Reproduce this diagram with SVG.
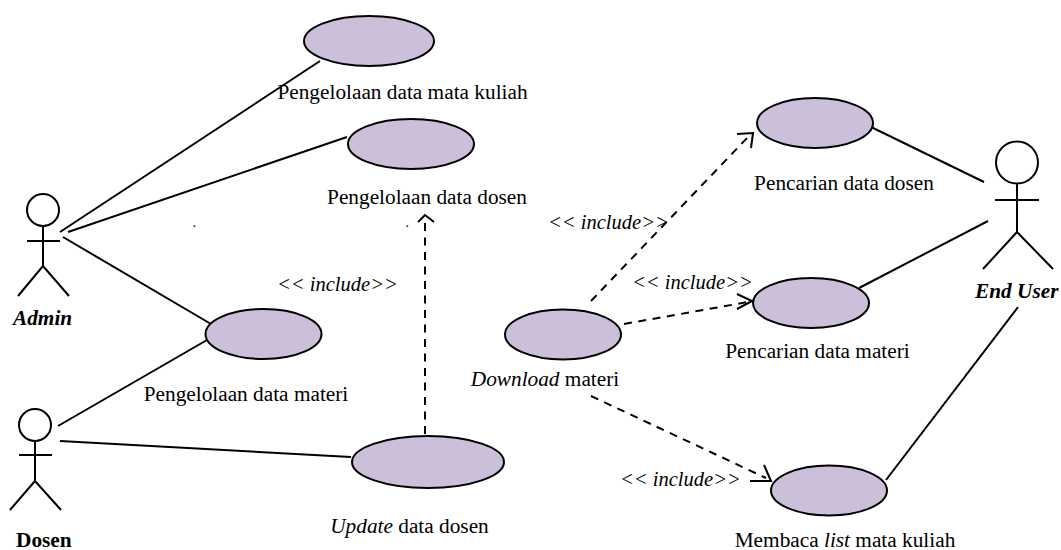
<svg xmlns="http://www.w3.org/2000/svg" width="1061" height="550" viewBox="0 0 1061 550">
<style>
.u{fill:#cbbfd9;stroke:#000;stroke-width:2}
.l{stroke:#000;stroke-width:2;fill:none;stroke-linecap:butt}
.d{stroke:#000;stroke-width:2;fill:none;stroke-dasharray:8 6.5}
.a{stroke:#000;stroke-width:2;fill:none}
.h{fill:#fff;stroke:#000;stroke-width:2}
text{font-family:"Liberation Serif","Times New Roman",serif;font-size:21.3px;fill:#000}
.i{font-style:italic}
.b{font-style:italic;font-weight:bold}
.n{font-size:20.5px;font-style:italic}
.p{font-size:14px}
</style>
<rect width="1061" height="550" fill="#fff"/>
<g id="connectors">
<line class="l" x1="60" y1="232" x2="320" y2="61"/>
<line class="l" x1="68" y1="232" x2="347" y2="137"/>
<line class="l" x1="63" y1="237" x2="211" y2="324"/>
<line class="l" x1="58" y1="426" x2="207" y2="340"/>
<line class="l" x1="60" y1="441" x2="351" y2="457"/>
<line class="l" x1="869" y1="126" x2="984" y2="182"/>
<line class="l" x1="859" y1="288" x2="988" y2="221"/>
<line class="l" x1="886" y1="480" x2="1018" y2="307"/>
<line class="d" x1="425" y1="434" x2="425" y2="218"/>
<path class="a" d="M418 222L425 215L434 222"/>
<line class="d" x1="591" y1="301" x2="749" y2="136"/>
<path class="a" d="M737 134L753 133L751 148"/>
<line class="d" x1="624" y1="324" x2="748" y2="302"/>
<path class="a" d="M737 294L752 301L737 309"/>
<line class="d" x1="591" y1="396" x2="766" y2="478"/>
<path class="a" d="M764 465L771 481L750 481"/>
</g>
<g id="uc1"><ellipse class="u" cx="369" cy="41" rx="65" ry="25"/><text x="402.5" y="99" text-anchor="middle">Pengelolaan data mata kuliah</text></g>
<g id="uc2"><ellipse class="u" cx="411" cy="144" rx="63" ry="25"/><text x="427" y="204" text-anchor="middle">Pengelolaan data dosen</text></g>
<g id="uc3"><ellipse class="u" cx="263.5" cy="334" rx="58" ry="25"/><text x="246" y="401" text-anchor="middle">Pengelolaan data materi</text></g>
<g id="uc4"><ellipse class="u" cx="428" cy="462" rx="76" ry="26"/><text x="409.5" y="533" text-anchor="middle"><tspan class="i">Update</tspan> data dosen</text></g>
<g id="uc5"><ellipse class="u" cx="563" cy="334.5" rx="58" ry="25"/><text x="545" y="386" text-anchor="middle"><tspan class="i">Download</tspan> materi</text></g>
<g id="uc6"><ellipse class="u" cx="815" cy="123" rx="58" ry="25"/><text x="844" y="190" text-anchor="middle">Pencarian data dosen</text></g>
<g id="uc7"><ellipse class="u" cx="811" cy="303" rx="58" ry="25"/><text x="817.5" y="358" text-anchor="middle">Pencarian data materi</text></g>
<g id="uc8"><ellipse class="u" cx="829" cy="490.5" rx="58" ry="25"/><text x="845" y="547" text-anchor="middle">Membaca <tspan class="i">list</tspan> mata kuliah</text></g>
<g id="admin"><circle class="h" cx="43" cy="210" r="16"/><path class="l" d="M43 226V266M27 241H60M43 266L18 296M43 266L69 296"/><text class="b" x="13" y="325">Admin</text></g>
<g id="dosen"><circle class="h" cx="35" cy="425" r="16"/><path class="l" d="M35 441V481M19 455H52M35 481L10 510M35 481L61 510"/><text x="16" y="547" style="font-weight:bold">Dosen</text></g>
<g id="enduser"><circle class="h" cx="1017" cy="162.5" r="21"/><path class="l" d="M1017 183V232M995 200H1039M1017 232L983 269M1017 232L1053 269"/><rect x="974" y="282" width="87" height="22" fill="#fff"/><text class="b" x="975" y="298">End User</text></g>
<g id="labels">
<text class="n" x="277" y="291">&lt;&lt; include&gt;&gt;</text>
<text class="n" x="548" y="229">&lt;&lt; include&gt;&gt;</text>
<text class="n" x="632" y="289">&lt;&lt; include&gt;&gt;</text>
<text class="n" x="620" y="486">&lt;&lt; include&gt;&gt;</text>
<text class="p" x="192.5" y="227">.</text>
<text class="p" x="405.5" y="227">.</text>
</g>
</svg>
